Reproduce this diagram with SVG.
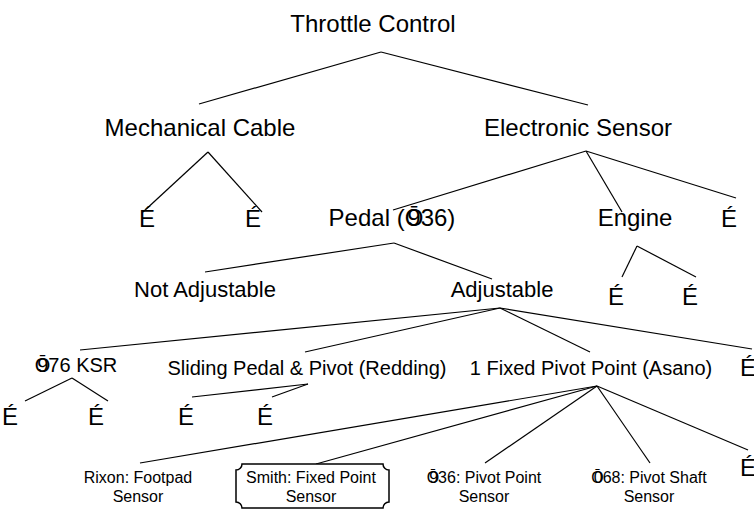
<svg xmlns="http://www.w3.org/2000/svg" width="754" height="510" viewBox="0 0 754 510">
<style>
text{font-family:"Liberation Sans",Arial,sans-serif;fill:#000;text-anchor:middle}
.l{font-size:24px}
.a{font-size:22px}
.m{font-size:20px}
.s{font-size:16px}
.e{font-size:24px}
#connectors line{stroke:#000;stroke-width:1.2;fill:none}
.box{fill:#fff;stroke:#000;stroke-width:1.5}
</style>
<rect width="754" height="510" fill="#fff"/>
<g id="connectors">
<line x1="381" y1="52" x2="199" y2="104"/>
<line x1="381" y1="52" x2="588" y2="105"/>
<line x1="208" y1="152" x2="143" y2="212"/>
<line x1="208" y1="152" x2="262" y2="212"/>
<line x1="586" y1="151" x2="393" y2="210"/>
<line x1="586" y1="151" x2="622" y2="212"/>
<line x1="586" y1="151" x2="736" y2="198"/>
<line x1="637" y1="246" x2="622" y2="277"/>
<line x1="637" y1="246" x2="696" y2="277"/>
<line x1="394" y1="243" x2="205" y2="272"/>
<line x1="394" y1="243" x2="492" y2="279"/>
<line x1="500" y1="308" x2="80" y2="350"/>
<line x1="500" y1="308" x2="305" y2="352"/>
<line x1="500" y1="308" x2="590" y2="352"/>
<line x1="500" y1="308" x2="752" y2="349"/>
<line x1="72" y1="378" x2="25" y2="401"/>
<line x1="72" y1="378" x2="108" y2="401"/>
<line x1="308" y1="384" x2="192" y2="397"/>
<line x1="308" y1="384" x2="272" y2="397"/>
<line x1="597" y1="386" x2="140" y2="463"/>
<line x1="597" y1="386" x2="316" y2="464"/>
<line x1="597" y1="386" x2="485" y2="463"/>
<line x1="597" y1="386" x2="650" y2="463"/>
<line x1="597" y1="386" x2="748" y2="450"/>
</g>
<g id="n-throttle"><text class="l" x="373" y="32">Throttle Control</text></g>
<g id="n-mech"><text class="l" x="200" y="136">Mechanical Cable</text></g>
<g id="n-elec"><text class="l" x="578" y="136">Electronic Sensor</text></g>
<g id="n-mech-e1"><text class="e" x="147" y="227">É</text></g>
<g id="n-mech-e2"><text class="e" x="253" y="227">É</text></g>
<g id="n-pedal"><text class="l" x="392" y="226">Pedal (Ō<tspan dx="-16">936)</tspan></text></g>
<g id="n-engine"><text class="l" x="635" y="226">Engine</text></g>
<g id="n-elec-e"><text class="e" x="729" y="227">É</text></g>
<g id="n-eng-e1"><text class="e" x="616" y="305">É</text></g>
<g id="n-eng-e2"><text class="e" x="690" y="305">É</text></g>
<g id="n-notadj"><text class="a" x="205" y="297">Not Adjustable</text></g>
<g id="n-adj"><text class="a" x="502" y="297">Adjustable</text></g>
<g id="n-ksr"><text class="m" x="76" y="372">Ō<tspan dx="-13">976 KSR</tspan></text></g>
<g id="n-sliding"><text class="m" x="307" y="375">Sliding Pedal &amp; Pivot (Redding)</text></g>
<g id="n-fixed"><text class="m" x="591" y="375">1 Fixed Pivot Point (Asano)</text></g>
<g id="n-adj-e"><text class="e" x="748" y="376">É</text></g>
<g id="n-ksr-e1"><text class="e" x="10" y="425">É</text></g>
<g id="n-ksr-e2"><text class="e" x="96" y="425">É</text></g>
<g id="n-sl-e1"><text class="e" x="186" y="425">É</text></g>
<g id="n-sl-e2"><text class="e" x="265" y="425">É</text></g>
<g id="n-rixon"><text class="s" x="138" y="483">Rixon: Footpad</text><text class="s" x="138" y="502">Sensor</text></g>
<g id="n-smith"><path class="box" d="M242,464 H383 A6,6 0 0 0 389,470 V502 A6,6 0 0 0 383,508 H242 A6,6 0 0 0 236,502 V470 A6,6 0 0 0 242,464 Z"/><text class="s" x="311" y="483">Smith: Fixed Point</text><text class="s" x="311" y="502">Sensor</text></g>
<g id="n-936"><text class="s" x="484" y="483">Ō<tspan dx="-10">936: Pivot Point</tspan></text><text class="s" x="484" y="502">Sensor</text></g>
<g id="n-068"><text class="s" x="649" y="483">Ō<tspan dx="-10">068: Pivot Shaft</tspan></text><text class="s" x="649" y="502">Sensor</text></g>
<g id="n-fixed-e"><text class="e" x="748" y="476">É</text></g>
</svg>
